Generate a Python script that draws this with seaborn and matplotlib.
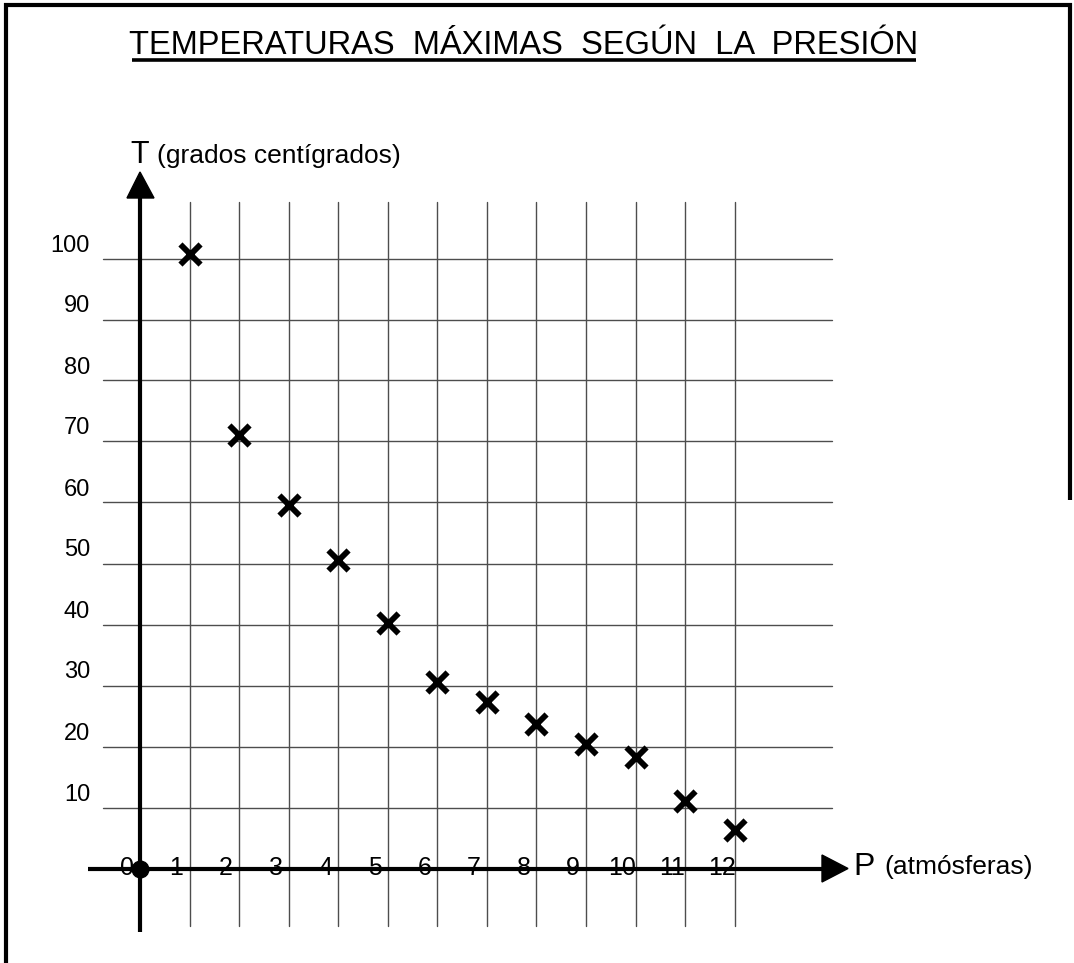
import matplotlib
matplotlib.use('Agg')
import matplotlib.pyplot as plt
import seaborn as sns

# Data
presion = [1, 2, 3, 4, 5, 6, 7, 8, 9, 10, 11, 12]
temperatura = [100.8, 71.1, 59.6, 50.6, 40.3, 30.5, 27.3, 23.7, 20.4, 18.3, 11.1, 6.3]
x_ticks = list(range(0, 13))
y_ticks = [10, 20, 30, 40, 50, 60, 70, 80, 90, 100]

titulo = 'TEMPERATURAS  MÁXIMAS  SEGÚN  LA  PRESIÓN'

sns.set_style('white')
plt.rcParams['font.family'] = ['Liberation Sans', 'DejaVu Sans']
plt.rcParams['text.color'] = 'black'

W, H = 1074, 963
fig = plt.figure(figsize=(W / 100, H / 100), dpi=100)
ax = fig.add_axes([0, 0, 1, 1])

# pixel layout of the origin and the scale
X0, SX = 140, 49.55
Y0, SY = 868.5, 6.1


def dx(px):
    return (px - X0) / SX


def dy(py):
    return (Y0 - py) / SY


ax.set_xlim(dx(0), dx(W))
ax.set_ylim(dy(H), dy(0))
ax.axis('off')

grid_col = '#4d4d4d'
# vertical grid lines
for p in x_ticks[1:]:
    ax.plot([p, p], [dy(926), dy(202)], color=grid_col, lw=1.0, zorder=1)
# horizontal grid lines
for t in y_ticks:
    ax.plot([dx(103), dx(832)], [t, t], color=grid_col, lw=1.0, zorder=1)

# axes with arrow heads
ax.plot([0, 0], [dy(932), dy(196)], color='black', lw=3, solid_capstyle='butt', zorder=3)
ax.fill([dx(127), dx(154), 0], [dy(198), dy(198), dy(172)], color='black', zorder=3)
ax.plot([dx(88), dx(824)], [0, 0], color='black', lw=3, solid_capstyle='butt', zorder=3)
ax.fill([dx(822), dx(822), dx(848)], [dy(855), dy(882), 0], color='black', zorder=3)
ax.plot([0], [0], marker='o', markersize=12, color='black', zorder=4)

# data points
sns.scatterplot(x=presion, y=temperatura, marker='x', s=210, color='black',
                linewidth=4.2, ax=ax, zorder=5)

# tick labels
for p in x_ticks:
    ax.text(p - 13 / SX, dy(875), str(p), ha='center', va='baseline',
            fontsize=18, color='black', zorder=6)
for t in y_ticks:
    ax.text(dx(90), t + 7 / SY, str(t), ha='right', va='baseline',
            fontsize=17, color='black')

# axis titles
ax.text(dx(130), dy(163), 'T', fontsize=22, va='baseline', ha='left', color='black')
ax.text(dx(157), dy(163), '(grados centígrados)', fontsize=19, va='baseline',
        ha='left', color='black')
ax.text(dx(853), dy(875), 'P', fontsize=23, va='baseline', ha='left', color='black')
ax.text(dx(884), dy(874), '(atmósferas)', fontsize=19, va='baseline', ha='left',
        color='black')

# title with underline
ax.text(dx(524), dy(54), titulo, fontsize=23.5, ha='center', va='baseline',
        color='black')
ax.plot([dx(132), dx(916)], [dy(59.5), dy(59.5)], color='black', lw=2.6,
        solid_capstyle='butt')

# page frame
ax.plot([dx(6), dx(6)], [dy(H), dy(3)], color='black', lw=3, solid_capstyle='butt')
ax.plot([dx(4), dx(1072)], [dy(5), dy(5)], color='black', lw=3, solid_capstyle='butt')
ax.plot([dx(1070), dx(1070)], [dy(3), dy(500)], color='black', lw=3, solid_capstyle='butt')

fig.savefig('out.png', dpi=100)
